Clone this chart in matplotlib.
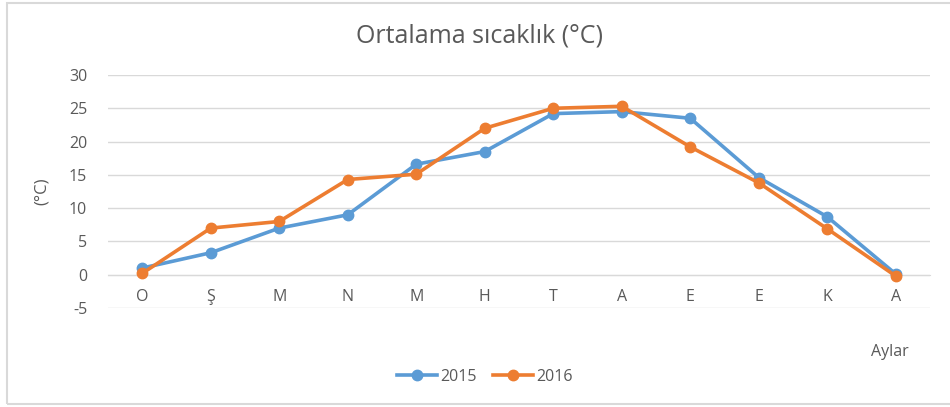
import matplotlib
matplotlib.use('Agg')
import matplotlib.pyplot as plt
from matplotlib.patches import Rectangle

# monthly averages
months = ['O', 'Ş', 'M', 'N', 'M', 'H', 'T', 'A', 'E', 'E', 'K', 'A']
t2015 = [1.0, 3.3, 7.0, 9.0, 16.6, 18.5, 24.2, 24.5, 23.5, 14.6, 8.7, 0.1]
t2016 = [0.2, 7.0, 8.0, 14.3, 15.1, 22.0, 25.0, 25.3, 19.2, 13.8, 6.9, -0.2]
yticks = [-5, 0, 5, 10, 15, 20, 25, 30]

blue = '#5B9BD5'
orange = '#ED7D31'
txt = '#595959'

plt.rcParams['font.family'] = ['Open Sans', 'DejaVu Sans']
plt.rcParams['axes.unicode_minus'] = False

fig = plt.figure(figsize=(9.5, 4.07), dpi=100)
fig.patches.append(Rectangle((7/950, 3/407), 1.0, 1 - 6/407, transform=fig.transFigure,
                             fill=False, edgecolor='#D9D9D9', linewidth=1.5))

ax = fig.add_axes([108/950, 1 - 308/407, 822/950, 233/407])
x = list(range(len(months)))
ax.plot(x, t2015, color=blue, lw=2.6, marker='o', ms=7.5, label='2015', zorder=3)
ax.plot(x, t2016, color=orange, lw=2.6, marker='o', ms=7.5, label='2016', zorder=4)

ax.set_xlim(-0.5, len(months) - 0.5)
ax.set_ylim(-5, 30)
ax.set_yticks(yticks)
ax.set_xticks(x)
ax.set_xticklabels(months)
ax.grid(axis='y', color='#D9D9D9', lw=1)
ax.set_axisbelow(True)
for s in ['top', 'right', 'left']:
    ax.spines[s].set_visible(False)
ax.spines['bottom'].set_position(('data', 0))
ax.spines['bottom'].set_color('#D9D9D9')
ax.tick_params(axis='both', length=0, labelsize=11.5, colors=txt)
ax.tick_params(axis='x', pad=10)
ax.tick_params(axis='y', pad=15)

ax.set_ylabel('(°C)', color=txt, fontsize=12, labelpad=14)
fig.text(480/950, 1 - 36/407, 'Ortalama sıcaklık (°C)', ha='center', va='center',
         fontsize=18, color=txt)
fig.text(890/950, 1 - 352/407, 'Aylar', ha='center', va='center', fontsize=11.5, color=txt)

leg = ax.legend(loc='center', bbox_to_anchor=(485/950, 1 - 377/407),
                bbox_transform=fig.transFigure, ncol=2, frameon=False,
                fontsize=11.5, handlelength=2.5, columnspacing=1.0, handletextpad=0.2)
for t in leg.get_texts():
    t.set_color(txt)

fig.savefig('out.png', dpi=100)
